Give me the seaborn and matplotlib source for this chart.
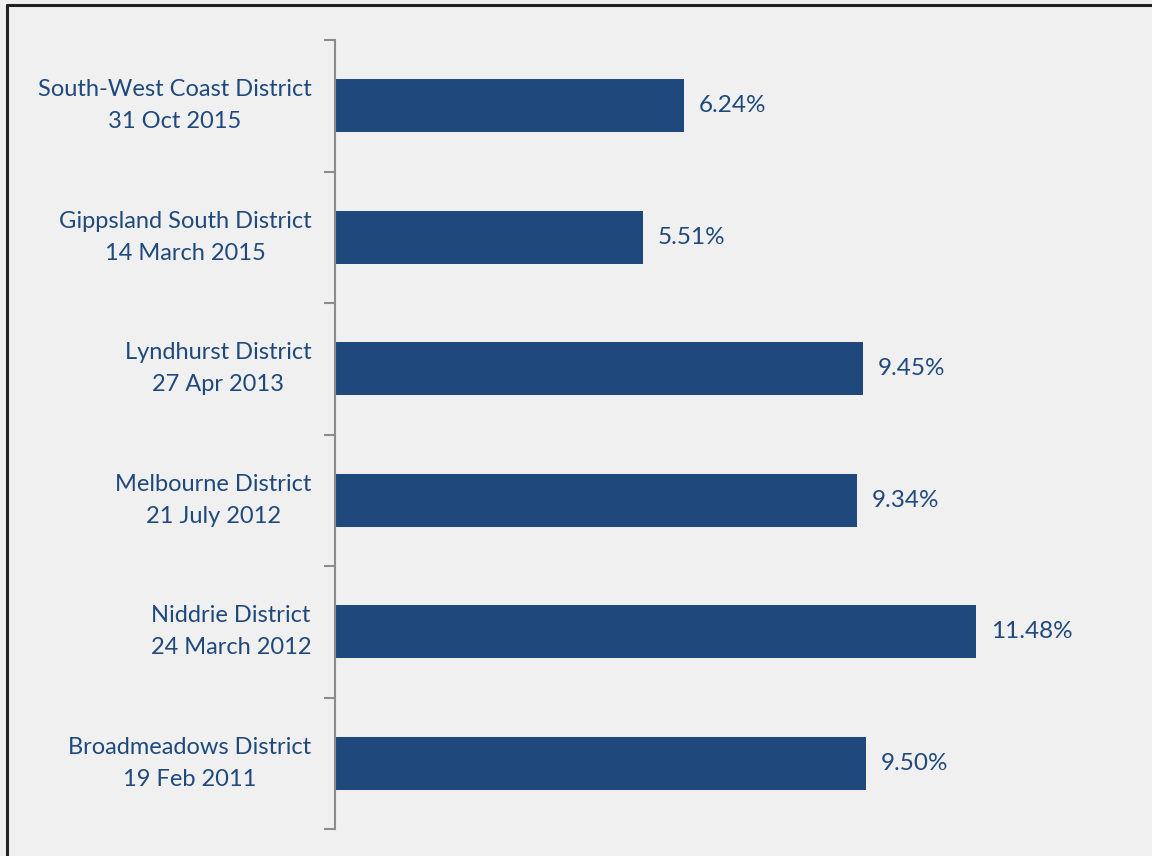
import matplotlib
matplotlib.use("Agg")
import matplotlib.pyplot as plt
import seaborn as sns
import pandas as pd
from matplotlib.lines import Line2D

# data
districts = [
    "South-West Coast District\n31 Oct 2015",
    "Gippsland South District\n14 March 2015",
    "Lyndhurst District\n27 Apr 2013",
    "Melbourne District\n21 July 2012",
    "Niddrie District\n24 March 2012",
    "Broadmeadows District\n19 Feb 2011",
]
swing = [6.24, 5.51, 9.45, 9.34, 11.48, 9.50]

df = pd.DataFrame({"district": districts, "swing": swing})

navy = "#1F497D"
bg = "#F0F0F0"

sns.set_theme(style="white")
plt.rcParams["font.family"] = ["Lato", "DejaVu Sans"]

fig = plt.figure(figsize=(11.52, 8.56), dpi=100, facecolor=bg)
W, H = 1152, 856

# frame: only the top and left edges are inside the image
top, left = 1 - 5 / H, 7 / W
fig.add_artist(Line2D([left, 1], [top, top], transform=fig.transFigure,
                      color="#222222", linewidth=2.2))
fig.add_artist(Line2D([left, left], [0, top], transform=fig.transFigure,
                      color="#222222", linewidth=2.2))

ax = fig.add_axes([335 / W, 1 - 829 / H, 782 / W, (829 - 40) / H])
ax.set_facecolor(bg)

sns.barplot(data=df, x="swing", y="district", color=navy, width=0.4,
            saturation=1, linewidth=0, ax=ax, orient="h")

ax.set_xlim(0, 14)
ax.set_ylim(5.5, -0.5)
ax.set_xlabel("")
ax.set_ylabel("")
ax.set_xticks([])

# boundary ticks on the axis, labels at the bar centres
ax.set_yticks([i - 0.5 for i in range(len(districts) + 1)])
ax.set_yticklabels([])
ax.set_yticks(range(len(districts)), minor=True)
ax.set_yticklabels(districts, minor=True, fontsize=17, color=navy,
                   multialignment="center", linespacing=1.65, va="center")
ax.tick_params(axis="y", which="major", length=8, width=1.5, color="#8C8C8C",
               left=True)
ax.tick_params(axis="y", which="minor", length=0, pad=17)

for side in ["top", "right", "bottom"]:
    ax.spines[side].set_visible(False)
ax.spines["left"].set_color("#8C8C8C")
ax.spines["left"].set_linewidth(1.5)

for c in ax.containers:
    ax.bar_label(c, labels=[f"{v:.2f}%" for v in swing], padding=11,
                 fontsize=17.5, color=navy)

fig.savefig("out.png", dpi=100, facecolor=fig.get_facecolor())
